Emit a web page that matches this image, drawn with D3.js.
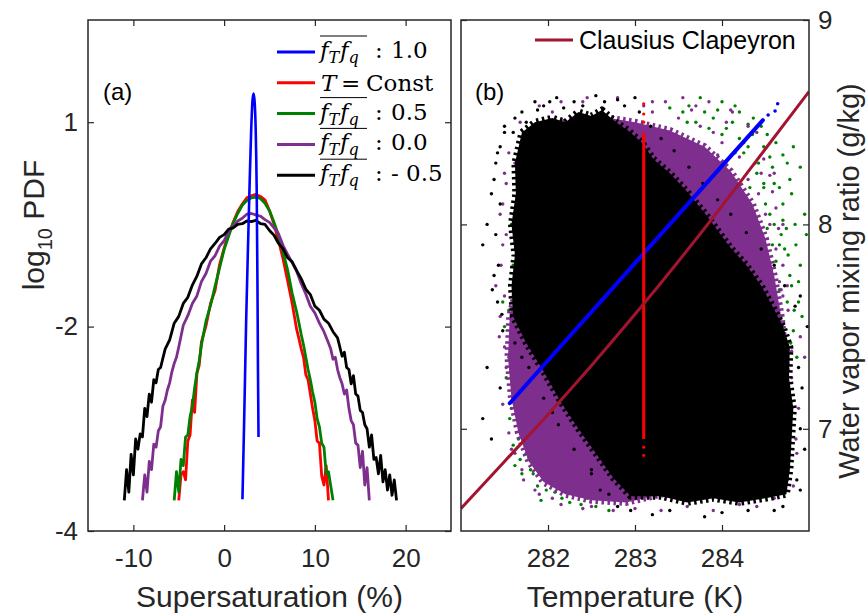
<!DOCTYPE html>
<html>
<head>
<meta charset="utf-8">
<script src="https://cdn.jsdelivr.net/npm/d3@7"></script>
<style>
  body { margin: 0; background: #fff; }
  svg { display: block; font-family: 'Liberation Sans', Arial, sans-serif; }
</style>
</head>
<body>
<div id="chart"></div>
<script>
// ---- panel (a): log10 PDF against supersaturation (%), [S, log10 PDF] ----
const bluePdf = [[2.02, -3.69], [2.21, -2.91], [2.43, -1.90], [2.65, -0.73], [2.82, 0.15], [2.98, 0.88], [3.13, 1.32], [3.24, 1.42], [3.35, 1.32], [3.48, 0.88], [3.59, 0.0], [3.67, -1.31], [3.73, -2.42], [3.79, -3.08]]

const redPdf = [[-5, -3.70], [-4.75, -3.45], [-4.5, -3.42], [-4.25, -3.50], [-4, -3.12], [-3.75, -3.06], [-3.5, -2.72], [-3.25, -2.84], [-3, -2.46], [-2.75, -2.38], [-2.5, -2.15],
  [-2, -1.99], [-1.5, -1.66], [-1, -1.47], [-0.5, -1.09], [0, -0.85], [0.5, -0.64], [1, -0.47], [1.5, -0.31], [2, -0.20], [2.5, -0.11], [3, -0.08], [3.5, -0.06], [4, -0.09], [4.5, -0.14], [5, -0.30], [5.5, -0.50], [6, -0.74], [6.5, -1.01], [7, -1.33], [7.5, -1.66], [8, -2.03],
  [8.25, -2.12], [8.5, -2.22], [8.75, -2.30], [9, -2.47], [9.25, -2.52], [9.5, -2.66], [9.75, -2.80], [10, -2.92], [10.25, -3.12], [10.5, -3.14], [10.75, -3.46], [11, -3.55], [11.25, -3.36], [11.5, -3.70]]

const greenPdf = [[-5.5, -3.70], [-5.25, -3.42], [-5, -3.62], [-4.75, -3.30], [-4.5, -3.36], [-4.25, -3.08], [-4, -3.06], [-3.75, -2.88], [-3.5, -2.78], [-3.25, -2.60], [-3, -2.45], [-2.75, -2.34], [-2.5, -2.18],
  [-2, -1.92], [-1.5, -1.69], [-1, -1.41], [-0.5, -1.14], [0, -0.87], [0.5, -0.67], [1, -0.48], [1.5, -0.34], [2, -0.22], [2.5, -0.15], [3, -0.11], [3.5, -0.10], [4, -0.12], [4.5, -0.19], [5, -0.30], [5.5, -0.47], [6, -0.66], [6.5, -0.91], [7, -1.17], [7.5, -1.51], [8, -1.79],
  [8.25, -1.95], [8.5, -2.08], [8.75, -2.18], [9, -2.30], [9.25, -2.42], [9.5, -2.52], [9.75, -2.64], [10, -2.74], [10.25, -2.90], [10.5, -2.98], [10.75, -3.14], [11, -3.18], [11.25, -3.44], [11.5, -3.42], [11.75, -3.56], [12, -3.70]]

const purplePdf = [[-9, -3.70], [-8.75, -3.45], [-8.5, -3.62], [-8.25, -3.32], [-8, -3.40], [-7.75, -3.15], [-7.5, -3.18], [-7.25, -3.02], [-7, -2.98], [-6.75, -2.78], [-6.5, -2.72], [-6.25, -2.62], [-6, -2.55], [-5.75, -2.44], [-5.5, -2.36], [-5.25, -2.30], [-5, -2.20],
  [-4.5, -1.98], [-4, -1.84], [-3.5, -1.66], [-3, -1.55], [-2.5, -1.34], [-2, -1.22], [-1.5, -1.04], [-1, -0.96], [-0.5, -0.82], [0, -0.74], [0.5, -0.60], [1, -0.53], [1.5, -0.45], [2, -0.41], [2.5, -0.35], [3, -0.34], [3.5, -0.36], [4, -0.38], [4.5, -0.43], [5, -0.47], [5.5, -0.55], [6, -0.64], [6.5, -0.81], [7, -0.94], [7.5, -1.06], [8, -1.19], [8.5, -1.37], [9, -1.52], [9.5, -1.70], [10, -1.80], [10.5, -1.95], [11, -2.05], [11.5, -2.16],
  [11.75, -2.22], [12, -2.32], [12.25, -2.30], [12.5, -2.42], [12.75, -2.50], [13, -2.56], [13.25, -2.66], [13.5, -2.62], [13.75, -2.80], [14, -2.92], [14.25, -2.96], [14.5, -3.14], [14.75, -3.16], [15, -3.38], [15.25, -3.22], [15.5, -3.55], [15.75, -3.38], [16, -3.70]]

const blackPdf = [[-11, -3.70], [-10.75, -3.40], [-10.5, -3.62], [-10.25, -3.25], [-10, -3.45], [-9.75, -3.10], [-9.5, -3.20], [-9.25, -3.05], [-9, -3.08], [-8.75, -2.80], [-8.5, -2.88], [-8.25, -2.66], [-8, -2.74], [-7.75, -2.52], [-7.5, -2.55], [-7.25, -2.42], [-7, -2.40],
  [-6.5, -2.22], [-6, -2.13], [-5.5, -1.95], [-5, -1.85], [-4.5, -1.66], [-4, -1.57], [-3.5, -1.39], [-3, -1.26], [-2.5, -1.08], [-2, -0.99], [-1.5, -0.86], [-1, -0.78], [-0.5, -0.69], [0, -0.65], [0.5, -0.57], [1, -0.55], [1.5, -0.50], [2, -0.49], [2.5, -0.45], [3, -0.46], [3.5, -0.44], [4, -0.49], [4.5, -0.50], [5, -0.59], [5.5, -0.66], [6, -0.78], [6.5, -0.86], [7, -0.99], [7.5, -1.05], [8, -1.18], [8.5, -1.30], [9, -1.45], [9.5, -1.53], [10, -1.70], [10.5, -1.76], [11, -1.89], [11.5, -1.95], [12, -2.05], [12.5, -2.11], [13, -2.29],
  [13.25, -2.25], [13.5, -2.40], [13.75, -2.42], [14, -2.56], [14.25, -2.48], [14.5, -2.66], [14.75, -2.68], [15, -2.82], [15.25, -2.84], [15.5, -2.96], [15.75, -3.00], [16, -3.18], [16.25, -3.06], [16.5, -3.30], [16.75, -3.28], [17, -3.44], [17.25, -3.26], [17.5, -3.52], [17.75, -3.40], [18, -3.60], [18.25, -3.45], [18.5, -3.65], [18.75, -3.50], [19, -3.70]]

const ssTicks = [-10, 0, 10, 20]
const pdfTicks = [1, -2, -4]
const legendColors = ['#0000ff', '#ff0000', '#008000', '#7e2f8e', '#000000']
const legendVals = ['1.0', null, '0.5', '0.0', '- 0.5']

// ---- panel (b): temperature (K) vs water vapour mixing ratio (g/kg) ----
const ccT = [281, 281.5, 282, 282.5, 283, 283.5, 284, 284.5, 285]
const ccQ = [6.61, 6.84, 7.07, 7.31, 7.56, 7.82, 8.09, 8.37, 8.65]

const blueLineT = [281.56, 284.47]
const blueLineQ = [7.125, 8.51]
const blueDots = [[284.53, 8.535], [284.61, 8.555], [284.64, 8.59]]

const redLineT = [283.1, 283.1]
const redLineQ = [6.95, 8.45]
const redDots = [[283.1, 8.50], [283.1, 8.54], [283.1, 8.59], [283.1, 6.91], [283.1, 6.87]]

const purpleHull = [[281.75, 8.40], [282.2, 8.50], [282.7, 8.52], [283.0, 8.50], [283.4, 8.46], [283.8, 8.38], [284.1, 8.26], [284.35, 8.10], [284.5, 7.93], [284.6, 7.75], [284.68, 7.55], [284.74, 7.30], [284.6, 6.8], [283.5, 6.7], [282.9, 6.64], [282.5, 6.65], [282.2, 6.68], [281.95, 6.74], [281.78, 6.84], [281.66, 6.98], [281.58, 7.15], [281.54, 7.35], [281.56, 7.55], [281.65, 7.70], [281.70, 8.0]]

const blackHull = [[281.70, 8.45], [281.85, 8.50], [282.05, 8.52], [282.20, 8.50], [282.35, 8.55], [282.50, 8.53], [282.62, 8.56], [282.78, 8.50], [282.92, 8.46], [283.08, 8.40], [283.21, 8.32], [283.40, 8.25], [283.60, 8.16], [283.83, 8.04], [284.09, 7.89], [284.28, 7.80], [284.45, 7.70], [284.58, 7.60], [284.70, 7.50], [284.78, 7.40], [284.77, 7.25], [284.82, 7.10], [284.80, 6.95], [284.78, 6.80], [284.74, 6.68], [284.50, 6.66], [284.20, 6.64], [283.90, 6.66], [283.60, 6.64], [283.30, 6.67], [282.95, 6.67], [282.75, 6.76], [282.55, 6.88], [282.35, 7.00], [282.15, 7.13], [281.95, 7.28], [281.75, 7.42], [281.60, 7.55], [281.58, 7.70], [281.62, 7.85], [281.58, 8.00], [281.63, 8.15], [281.62, 8.30]]

const greenDots = [[284.20, 8.55], [284.45, 8.48], [284.62, 8.40], [284.75, 8.30], [284.55, 8.33], [284.35, 8.44], [283.90, 8.52], [283.70, 8.50], [284.05, 8.47], [284.80, 8.15], [284.70, 8.02], [284.85, 7.90], [284.78, 7.75], [284.88, 7.62], [284.68, 7.55], [284.82, 7.48], [284.60, 8.20], [284.50, 8.10], [284.40, 8.25], [284.25, 8.35], [284.90, 7.80], [284.72, 7.88], [284.66, 7.68], [284.95, 8.05], [283.55, 8.55], [283.40, 8.57],
  [283.62, 8.58], [283.80, 8.55], [283.95, 8.56], [284.12, 8.50], [284.30, 8.49], [284.48, 8.38], [284.58, 8.28], [284.66, 8.18], [284.70, 8.10], [284.74, 7.98], [284.76, 7.85], [284.80, 7.70], [284.83, 7.58], [284.79, 7.42], [284.86, 7.35], [284.92, 7.55], [284.88, 7.72], [284.84, 8.00], [284.78, 8.22], [284.70, 8.34], [284.52, 8.44], [284.36, 8.52], [284.15, 8.58], [284.00, 8.60], [284.68, 7.95], [284.62, 7.82], [284.55, 8.05], [284.48, 8.20], [284.58, 7.90], [284.64, 7.60], [284.70, 7.50], [284.75, 7.62], [284.42, 8.30], [284.30, 8.38], [283.75, 8.62], [284.97, 7.95], [284.90, 8.28], [284.82, 8.38],
  [283.6, 8.50], [284.0, 8.44], [284.2, 8.42], [284.38, 8.30], [284.48, 8.18], [284.6, 8.00], [284.66, 7.90], [284.52, 7.98], [284.32, 8.18], [284.15, 8.35], [283.85, 8.47],
  [281.62, 7.20], [281.70, 7.05], [281.66, 6.95], [281.75, 6.88], [281.80, 6.80], [281.90, 6.78], [282.00, 6.74], [282.10, 6.76], [281.58, 7.10], [281.72, 7.28], [281.85, 6.92], [281.95, 6.85], [282.20, 6.72], [281.68, 6.85], [281.55, 7.35], [281.64, 7.45], [281.60, 7.80], [281.58, 8.00], [282.30, 6.68], [282.45, 6.66],
  [281.52, 7.25], [281.56, 7.05], [281.60, 6.92], [281.64, 7.32], [281.68, 7.12], [281.73, 6.96], [281.78, 6.86], [281.83, 6.78], [281.88, 6.72], [281.98, 6.70], [282.08, 6.69], [282.16, 6.66], [282.25, 6.64], [282.38, 6.63], [282.55, 6.62], [281.62, 6.82], [281.50, 7.50], [281.48, 7.62], [281.55, 7.58], [281.60, 7.40], [281.70, 6.78], [281.92, 6.65], [282.70, 6.60]]

const purpleDots = [[281.52, 8.20], [281.45, 8.05], [281.48, 7.90], [281.40, 7.70], [281.45, 7.55], [281.50, 7.40], [281.60, 7.15], [281.58, 6.90], [281.70, 6.80], [281.85, 6.70], [282.05, 6.66], [282.50, 6.62], [283.00, 6.61], [283.60, 6.62], [284.20, 6.63], [284.60, 6.66], [284.75, 6.75], [284.85, 6.95], [284.80, 7.25], [284.90, 7.45], [284.75, 7.70], [284.70, 8.00], [284.60, 8.25], [284.40, 8.45], [284.10, 8.56], [283.70, 8.58], [283.20, 8.60], [282.80, 8.62], [282.40, 8.60], [282.05, 8.55], [281.80, 8.45], [281.62, 8.30], [284.95, 7.35],
  [284.30, 8.48], [284.48, 8.32], [284.58, 8.16], [284.65, 7.98], [284.70, 7.80], [284.76, 7.58], [284.80, 7.38], [284.12, 8.55], [283.85, 8.60], [283.55, 8.62], [284.55, 8.24], [284.62, 8.08], [284.68, 7.68],
  [283.2, 8.55], [283.5, 8.52], [283.65, 8.56], [283.9, 8.45], [284.0, 8.40], [284.2, 8.33], [284.3, 8.22], [284.42, 8.15], [284.55, 8.00], [284.62, 7.88], [284.66, 7.72], [283.35, 8.60], [283.75, 8.48], [284.05, 8.50], [284.25, 8.40], [284.45, 8.25], [284.5, 8.05], [284.7, 7.65], [283.1, 8.58], [283.95, 8.34],
  [281.55, 8.35], [281.50, 8.25], [281.48, 8.10], [281.52, 7.95], [281.46, 7.80], [281.50, 7.65], [281.44, 7.45], [281.52, 7.30], [281.48, 7.12], [281.55, 6.98], [281.62, 6.88], [281.72, 6.75], [281.90, 6.68], [282.15, 6.63], [282.40, 6.61], [282.75, 6.60], [281.68, 8.50], [281.90, 8.58], [282.15, 8.60], [282.45, 8.62],
  [283.3, 6.60], [283.9, 6.60], [284.4, 6.62], [284.82, 6.72], [284.86, 6.88], [284.88, 7.10]]

const blackDots = [[281.50, 8.48], [281.70, 8.55], [281.85, 8.60], [281.95, 8.58], [282.10, 8.62], [282.30, 8.60], [282.55, 8.63], [282.80, 8.61], [283.00, 8.62], [281.40, 8.30], [281.35, 8.15], [281.30, 8.00], [281.45, 8.38], [281.60, 8.45], [281.25, 7.90], [281.38, 7.75], [281.42, 7.62], [281.48, 7.48], [281.30, 7.30], [281.25, 7.05], [281.35, 6.95], [281.45, 7.20], [283.20, 6.58], [283.80, 6.57], [284.30, 6.60], [284.70, 6.62], [284.90, 6.70], [284.95, 6.90], [284.92, 7.20], [284.98, 7.50], [284.90, 7.65], [282.80, 6.62], [282.60, 6.70], [282.50, 6.80],
  [281.62, 8.52], [281.75, 8.50], [281.88, 8.56], [282.02, 8.60], [282.18, 8.57], [282.40, 8.58], [282.65, 8.60], [282.88, 8.58], [283.05, 8.55], [283.18, 8.48], [283.30, 8.42], [283.45, 8.36], [283.62, 8.28], [283.78, 8.20], [283.95, 8.12], [284.10, 8.05], [284.28, 7.96], [284.45, 7.88], [284.60, 7.80], [284.72, 7.70], [284.84, 7.60],
  [281.50, 8.45], [281.42, 8.35], [281.38, 8.22], [281.45, 8.10], [281.40, 7.95], [281.43, 7.80], [281.36, 7.68], [281.47, 7.56],
  [281.62, 7.42], [281.78, 7.30], [281.95, 7.15], [282.12, 7.02], [282.30, 6.90], [282.50, 6.78], [282.70, 6.68], [281.70, 7.35], [282.05, 7.08],
  [284.88, 7.30], [284.90, 7.00], [284.86, 6.75], [284.60, 6.60], [284.00, 6.59], [283.40, 6.60], [282.95, 6.60]]

const tempTicks = [282, 283, 284]
const mixTicks = [7, 8, 9]

// ---- layout ----
const W = 867, H = 613
const ink = '#262626'
const boxA = {l: 88, r: 451, t: 20, b: 531}
const boxB = {l: 461, r: 809, t: 20, b: 531}

const svg = d3.select('#chart').append('svg').attr('width', W).attr('height', H)

const xA = d3.scaleLinear().domain([-15, 25]).range([boxA.l, boxA.r])
const hA = boxA.b - boxA.t
// the labels 1, -2, -4 are equally spaced in the original, hence a piecewise scale
const yA = d3.scaleLinear().domain([-4, -2, 1, 2.5])
  .range([boxA.b, boxA.b - 0.4 * hA, boxA.b - 0.8 * hA, boxA.t])

const xB = d3.scaleLinear().domain([281, 285]).range([boxB.l, boxB.r])
const yB = d3.scaleLinear().domain([6.5, 9]).range([boxB.b, boxB.t])

const defs = svg.append('defs')
function clip(id, box) {
  defs.append('clipPath').attr('id', id).append('rect')
    .attr('x', box.l).attr('y', box.t).attr('width', box.r - box.l).attr('height', box.b - box.t)
}
clip('clipA', boxA)
clip('clipB', boxB)

function frame(box, x, y, xTicks, yTicks, labelSide) {
  const g = svg.append('g')
  const lab = d => String(d)
  g.append('g').attr('transform', `translate(0,${box.b})`)
    .call(d3.axisBottom(x).tickValues(xTicks).tickSizeInner(-6).tickSizeOuter(0).tickPadding(18).tickFormat(lab))
  g.append('g').attr('transform', `translate(0,${box.t})`)
    .call(d3.axisTop(x).tickValues(xTicks).tickSizeInner(-6).tickSizeOuter(0).tickFormat(''))
  g.append('g').attr('transform', `translate(${box.l},0)`)
    .call(d3.axisLeft(y).tickValues(yTicks).tickSizeInner(-6).tickSizeOuter(0).tickPadding(10)
      .tickFormat(labelSide === 'left' ? lab : ''))
  g.append('g').attr('transform', `translate(${box.r},0)`)
    .call(d3.axisRight(y).tickValues(yTicks).tickSizeInner(-6).tickSizeOuter(0).tickPadding(9)
      .tickFormat(labelSide === 'right' ? lab : ''))
  g.selectAll('.domain').remove()
  g.selectAll('.tick line').attr('stroke', ink).attr('stroke-width', 1.2)
  g.selectAll('.tick text').attr('fill', ink).attr('font-size', 26)
    .attr('font-family', "'Liberation Sans', Arial, sans-serif")
  g.append('rect')
    .attr('x', box.l).attr('y', box.t)
    .attr('width', box.r - box.l).attr('height', box.b - box.t)
    .attr('fill', 'none').attr('stroke', ink).attr('stroke-width', 1.5)
  return g
}

// ---- panel (a) ----
const plotA = svg.append('g').attr('clip-path', 'url(#clipA)')
const lineA = d3.line().x(d => xA(d[0])).y(d => yA(d[1]))

const curvesA = [
  {d: redPdf, c: legendColors[1]},
  {d: greenPdf, c: legendColors[2]},
  {d: purplePdf, c: legendColors[3]},
  {d: blackPdf, c: legendColors[4]}
]
curvesA.forEach(cv => {
  plotA.append('path').datum(cv.d).attr('d', lineA)
    .attr('fill', 'none').attr('stroke', cv.c).attr('stroke-width', 2.8)
    .attr('stroke-linejoin', 'round')
})
plotA.append('path').datum(bluePdf)
  .attr('d', d3.line().x(d => xA(d[0])).y(d => yA(d[1])).curve(d3.curveMonotoneX))
  .attr('fill', 'none').attr('stroke', legendColors[0]).attr('stroke-width', 2.6)

frame(boxA, xA, yA, ssTicks, pdfTicks, 'left')

// legend (a)
const serif = "'DejaVu Serif', 'Liberation Serif', serif"
const legA = svg.append('g').attr('font-family', serif).attr('fill', '#000')
legendColors.forEach((c, i) => {
  const cy = 52 + i * 30.8
  legA.append('line').attr('x1', 277).attr('x2', 315).attr('y1', cy).attr('y2', cy)
    .attr('stroke', c).attr('stroke-width', 3)
  if (legendVals[i] === null) {
    legA.append('text').attr('x', 321).attr('y', cy + 8).attr('font-size', 23).attr('font-style', 'italic').text('T')
    legA.append('text').attr('x', 341).attr('y', cy + 8).attr('font-size', 23).text('=')
    legA.append('text').attr('x', 366).attr('y', cy + 8).attr('font-size', 23).text('Const')
  } else {
    const t = legA.append('text').attr('x', 320).attr('y', cy + 6).attr('font-size', 23).attr('font-style', 'italic')
    t.append('tspan').text('f')
    t.append('tspan').attr('dy', 5).attr('font-size', 16).text('T')
    t.append('tspan').attr('x', 340).attr('dy', -5).text('f')
    t.append('tspan').attr('dy', 5).attr('font-size', 16).text('q')
    legA.append('line').attr('x1', 320).attr('x2', 367).attr('y1', cy - 16).attr('y2', cy - 16)
      .attr('stroke', '#000').attr('stroke-width', 1)
    legA.append('text').attr('x', 375).attr('y', cy + 6).attr('font-size', 23).text(':')
    legA.append('text').attr('x', 391).attr('y', cy + 6).attr('font-size', 23).text(legendVals[i])
  }
})

// ---- panel (b) ----
const plotB = svg.append('g').attr('clip-path', 'url(#clipB)')
const hull = d3.line().x(d => xB(d[0])).y(d => yB(d[1])).curve(d3.curveLinearClosed)
function dots(data, color, r) {
  plotB.append('g').selectAll('circle').data(data).enter().append('circle')
    .attr('cx', d => xB(d[0])).attr('cy', d => yB(d[1])).attr('r', r).attr('fill', color)
}
// dense cores: filled hull with a dotted rim so the edge reads as scattered points
function cloud(data, color) {
  plotB.append('path').datum(data).attr('d', hull)
    .attr('fill', color).attr('stroke', color)
    .attr('stroke-width', 7).attr('stroke-dasharray', '2.5 3.5').attr('stroke-linejoin', 'round')
}
dots(greenDots, legendColors[2], 1.7)
cloud(purpleHull, legendColors[3])
dots(purpleDots, legendColors[3], 1.7)
cloud(blackHull, '#000')
dots(blackDots, '#000', 1.7)

const seg = d3.line().x(d => xB(d[0])).y(d => yB(d[1]))
plotB.append('path').datum(blueLineT.map((t, i) => [t, blueLineQ[i]])).attr('d', seg)
  .attr('stroke', legendColors[0]).attr('stroke-width', 4).attr('stroke-linecap', 'round').attr('fill', 'none')
dots(blueDots, legendColors[0], 1.8)
plotB.append('path').datum(redLineT.map((t, i) => [t, redLineQ[i]])).attr('d', seg)
  .attr('stroke', legendColors[1]).attr('stroke-width', 3).attr('fill', 'none')
dots(redDots, legendColors[1], 1.6)

plotB.append('path').datum(ccT.map((t, i) => [t, ccQ[i]]))
  .attr('d', d3.line().x(d => xB(d[0])).y(d => yB(d[1])).curve(d3.curveMonotoneX))
  .attr('stroke', '#a2142f').attr('stroke-width', 3).attr('fill', 'none')

frame(boxB, xB, yB, tempTicks, mixTicks, 'right')

// legend (b)
svg.append('line').attr('x1', 535).attr('x2', 573).attr('y1', 40).attr('y2', 40)
  .attr('stroke', '#a2142f').attr('stroke-width', 3)
svg.append('text').attr('x', 579).attr('y', 49).attr('font-size', 25).attr('fill', '#000')
  .text('Clausius Clapeyron')

// ---- panel tags and axis titles ----
svg.append('text').attr('x', 103).attr('y', 100).attr('font-size', 24).attr('fill', '#000').text('(a)')
svg.append('text').attr('x', 475).attr('y', 100).attr('font-size', 24).attr('fill', '#000').text('(b)')

svg.append('text').attr('x', (boxA.l + boxA.r) / 2).attr('y', 607).attr('text-anchor', 'middle')
  .attr('font-size', 30).attr('fill', ink).text('Supersaturation (%)')
svg.append('text').attr('x', (boxB.l + boxB.r) / 2).attr('y', 607).attr('text-anchor', 'middle')
  .attr('font-size', 30).attr('fill', ink).text('Temperature (K)')

const yLab = svg.append('text').attr('transform', 'translate(44,225) rotate(-90)')
  .attr('text-anchor', 'middle').attr('font-size', 30).attr('fill', ink)
yLab.append('tspan').text('log')
yLab.append('tspan').attr('dy', 8).attr('font-size', 20).text('10')
yLab.append('tspan').attr('dy', -8).text(' PDF')

svg.append('text').attr('transform', 'translate(859,281) rotate(-90)')
  .attr('text-anchor', 'middle').attr('font-size', 29).attr('fill', ink)
  .text('Water vapor mixing ratio (g/kg)')
</script>
</body>
</html>
